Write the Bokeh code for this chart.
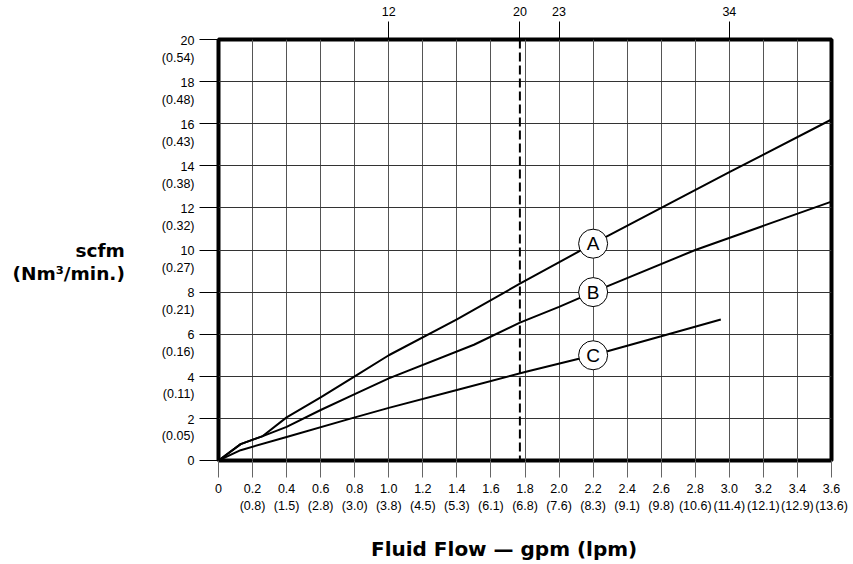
from bokeh.plotting import figure
from bokeh.models import Range1d, LinearAxis, FixedTicker, ColumnDataSource, Span
from bokeh.core.properties import value
from bokeh.embed import file_html
from bokeh.resources import INLINE

# ---------------- data ----------------
GPM_TICKS = [0, 0.2, 0.4, 0.6, 0.8, 1.0, 1.2, 1.4, 1.6, 1.8, 2.0, 2.2, 2.4,
             2.6, 2.8, 3.0, 3.2, 3.4, 3.6]
GPM_LABELS = ["0", "0.2", "0.4", "0.6", "0.8", "1.0", "1.2", "1.4", "1.6",
              "1.8", "2.0", "2.2", "2.4", "2.6", "2.8", "3.0", "3.2", "3.4", "3.6"]
LPM_LABELS = ["", "(0.8)", "(1.5)", "(2.8)", "(3.0)", "(3.8)", "(4.5)", "(5.3)",
              "(6.1)", "(6.8)", "(7.6)", "(8.3)", "(9.1)", "(9.8)", "(10.6)",
              "(11.4)", "(12.1)", "(12.9)", "(13.6)"]
SCFM_TICKS = [0, 2, 4, 6, 8, 10, 12, 14, 16, 18, 20]
NM3_LABELS = ["", "(0.05)", "(0.11)", "(0.16)", "(0.21)", "(0.27)", "(0.32)",
              "(0.38)", "(0.43)", "(0.48)", "(0.54)"]
TOP_TICKS = [1.0, 1.77, 2.0, 3.0]
TOP_LABELS = ["12", "20", "23", "34"]
REF_GPM = 1.77

A_X = [0, 0.13, 0.26, 0.4, 0.6, 0.8, 1.0, 1.4, 1.77, 2.2, 2.6, 3.0, 3.6]
A_Y = [0, 0.78, 1.16, 2.05, 3.0, 4.0, 5.0, 6.7, 8.4, 10.3, 12.0, 13.7, 16.2]
B_X = [0, 0.13, 0.26, 0.4, 0.6, 0.8, 1.0, 1.5, 1.77, 2.0, 2.2, 2.8, 3.6]
B_Y = [0, 0.78, 1.16, 1.6, 2.4, 3.15, 3.9, 5.5, 6.55, 7.3, 8.0, 10.0, 12.3]
C_X = [0, 0.13, 0.4, 0.78, 1.0, 1.4, 1.8, 2.2, 2.6, 2.95]
C_Y = [0, 0.49, 1.12, 2.0, 2.5, 3.35, 4.2, 5.0, 5.9, 6.7]

CURVE_NAMES = ["A", "B", "C"]
CURVE_LABEL_X = [2.2, 2.2, 2.2]
CURVE_LABEL_Y = [10.3, 8.0, 5.0]

X_TITLE = "Fluid Flow — gpm (lpm)"
Y_TITLE = ["scfm", "(Nm³/min.)"]

FONT = "Liberation Sans"
TITLE_FONT = "DejaVu Sans"
TICK_SIZE = "12.5px"

# ---------------- figure ----------------
p = figure(width=853, height=564, output_backend="svg", toolbar_location=None,
           x_range=Range1d(0, 3.6), y_range=Range1d(0, 20),
           min_border_left=218, min_border_right=22, min_border_top=39,
           min_border_bottom=103)
p.background_fill_color = "white"
p.border_fill_color = "white"
p.outline_line_color = "black"
p.outline_line_width = 4

# bottom axis (two-line gpm / lpm labels)
xa = p.xaxis[0]
xa.ticker = FixedTicker(ticks=GPM_TICKS)
xa.major_label_overrides = {
    t: (g if l == "" else g + "\n" + l)
    for t, g, l in zip(GPM_TICKS, GPM_LABELS, LPM_LABELS)
}
xa.axis_line_color = None
xa.major_tick_in = 0
xa.major_tick_out = 17
xa.major_tick_line_color = "#666666"
xa.minor_tick_line_color = None
xa.major_label_standoff = 4
xa.major_label_text_font = FONT
xa.major_label_text_font_size = TICK_SIZE
xa.major_label_text_color = "black"
xa.major_label_text_line_height = 1.25
xa.axis_label = X_TITLE + "\u00a0" * 6
xa.axis_label_standoff = 21
xa.axis_label_text_font = TITLE_FONT
xa.axis_label_text_font_size = "20px"
xa.axis_label_text_font_style = "bold"
xa.axis_label_text_color = "black"

# left axis: ticks only
ya = p.yaxis[0]
ya.ticker = FixedTicker(ticks=SCFM_TICKS)
ya.axis_line_color = None
ya.major_tick_in = 0
ya.major_tick_out = 19
ya.major_tick_line_color = "black"
ya.minor_tick_line_color = None
ya.major_label_standoff = 0
ya.major_label_text_font_size = "0px"
ya.major_label_text_color = None

# left axis: two-line scfm / Nm3 labels on a shifted copy of the y range,
# so that the first line of each label sits on its tick
SHIFT = 0.46
p.extra_y_ranges = {"lab": Range1d(SCFM_TICKS[0] + SHIFT, SCFM_TICKS[-1] + SHIFT)}
lab_ticks = []
overrides = {}
for t, n in zip(SCFM_TICKS, NM3_LABELS):
    if n == "":
        # single-line label: place it exactly on the tick
        lab_ticks.append(t + SHIFT)
        overrides[t + SHIFT] = str(t)
    else:
        lab_ticks.append(t)
        overrides[t] = str(t) + "\n" + n
ya2 = LinearAxis(y_range_name="lab", ticker=FixedTicker(ticks=lab_ticks),
                 major_label_overrides=overrides)
ya2.axis_line_color = None
ya2.major_tick_in = 0
ya2.major_tick_out = 0
ya2.major_tick_line_color = None
ya2.minor_tick_line_color = None
ya2.major_label_standoff = 5
ya2.major_label_text_font = FONT
ya2.major_label_text_font_size = TICK_SIZE
ya2.major_label_text_color = "black"
ya2.major_label_text_line_height = 1.2
ya2.axis_label = "\n" + "\n".join(Y_TITLE)
ya2.axis_label_standoff = 34
ya2.axis_label_text_font = TITLE_FONT
ya2.axis_label_text_font_size = "18.5px"
ya2.axis_label_text_font_style = "bold"
ya2.axis_label_text_color = "black"
ya2.axis_label_text_line_height = 1.1
try:
    ya2.axis_label_orientation = "horizontal"
except Exception:
    pass
p.add_layout(ya2, "left")

# top axis
ta = LinearAxis(ticker=FixedTicker(ticks=TOP_TICKS),
                major_label_overrides=dict(zip(TOP_TICKS, TOP_LABELS)))
ta.axis_line_color = None
ta.major_tick_in = 0
ta.major_tick_out = 18
ta.major_tick_line_color = "black"
ta.minor_tick_line_color = None
ta.major_label_standoff = 6
ta.major_label_text_font = FONT
ta.major_label_text_font_size = TICK_SIZE
ta.major_label_text_color = "black"
p.add_layout(ta, "above")

# grids
p.xgrid.ticker = FixedTicker(ticks=GPM_TICKS)
p.ygrid.ticker = FixedTicker(ticks=SCFM_TICKS)
p.xgrid.grid_line_color = "#555555"
p.ygrid.grid_line_color = "#333333"
p.xgrid.grid_line_width = 1
p.ygrid.grid_line_width = 1

# reference dashed line
p.add_layout(Span(location=REF_GPM, dimension="height", line_color="black",
                  line_width=2, line_dash="9 4"))

# curves
for xs, ys in ((A_X, A_Y), (B_X, B_Y), (C_X, C_Y)):
    p.line(xs, ys, line_color="black", line_width=2)

src_lab = ColumnDataSource(dict(x=CURVE_LABEL_X, y=CURVE_LABEL_Y, t=CURVE_NAMES))
p.scatter("x", "y", source=src_lab, size=29, marker="circle",
          fill_color="white", line_color="black", line_width=1)
p.text("x", "y", text="t", source=src_lab, text_align="center",
       text_baseline="middle", text_font=value(FONT), text_font_size="19px",
       text_color="black")

open("out.html", "w").write(file_html(p, INLINE))
